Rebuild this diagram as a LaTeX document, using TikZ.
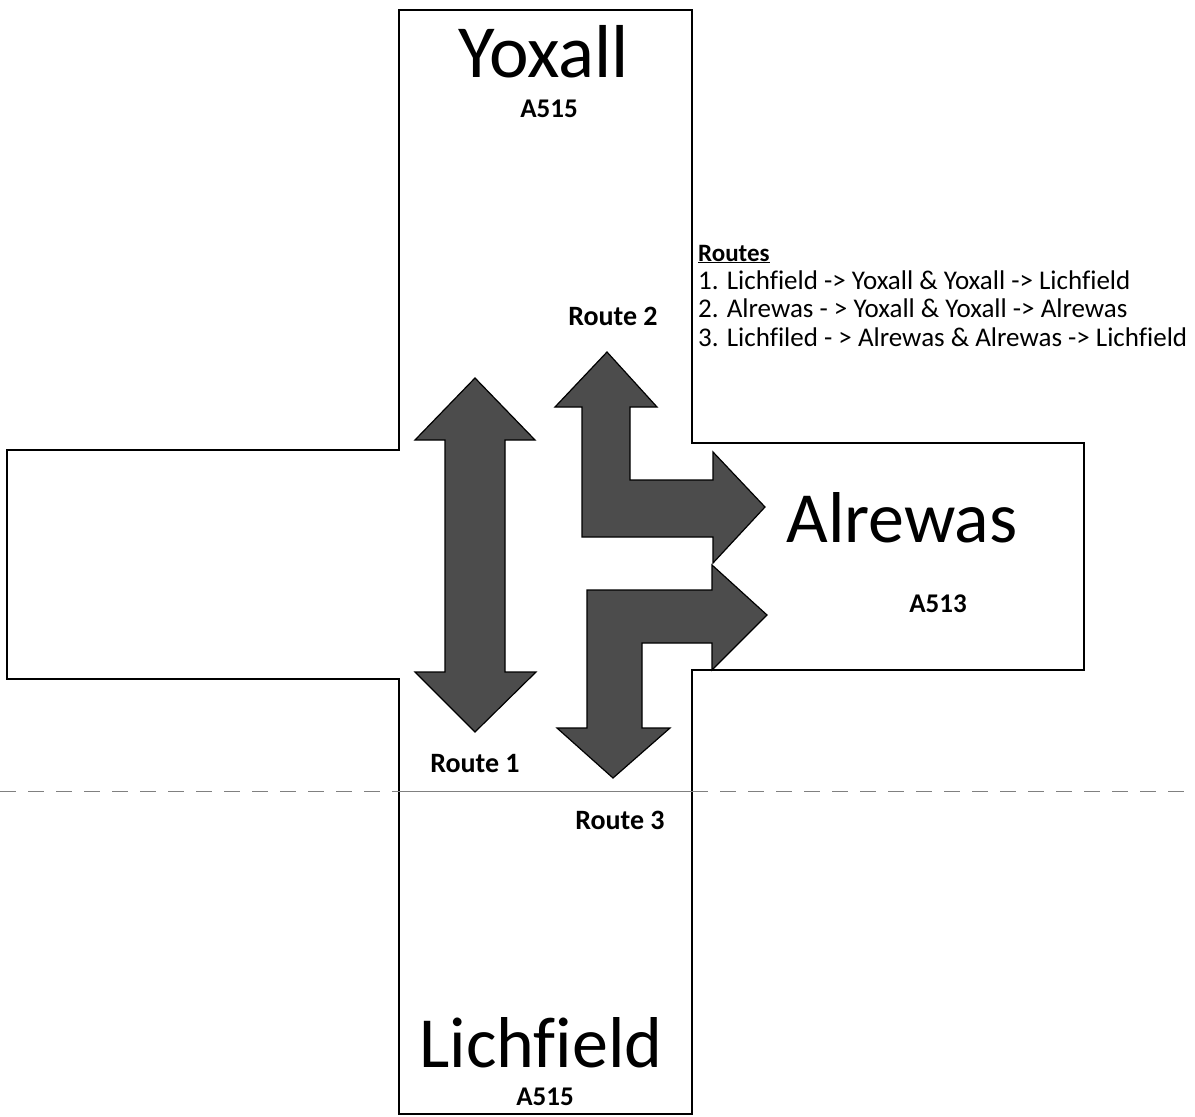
\documentclass[tikz,border=0pt]{standalone}
\usepackage{fontspec}
\setmainfont{Carlito}[Ligatures={NoCommon}]
\begin{document}
\begin{tikzpicture}[x=1pt,y=-1pt,
  road/.style={draw=black,line width=1.3pt},
  bigarrow/.style={draw=black,line width=1.2pt,fill=black!70,line join=miter},
  bigname/.style={anchor=base,inner sep=0pt,font=\fontsize{72}{86}\selectfont},
  roadno/.style={anchor=base,inner sep=0pt,font=\bfseries\fontsize{27}{32}\selectfont},
  routelbl/.style={anchor=base,inner sep=0pt,font=\bfseries\fontsize{28}{34}\selectfont},
  legend/.style={anchor=base west,inner sep=0pt,font=\fontsize{27}{30}\selectfont},
  divider/.style={gray,line width=1pt,dash pattern=on 16pt off 12pt}]
\useasboundingbox (0,0) rectangle (1195,1117);
% road outline
\draw[road] (399,10) -- (692,10) -- (692,443) -- (1084,443) -- (1084,670)
  -- (692,670) -- (692,1114) -- (399,1114) -- (399,679) -- (7,679)
  -- (7,450) -- (399,450) -- cycle;
% divider line
\coordinate (dl0) at (0,791);
\coordinate (dl1) at (399,791);
\coordinate (dl2) at (692,791);
\coordinate (dl3) at (1195,791);
\draw[divider] (dl0) -- (dl1);
\draw[gray,line width=1pt] (dl1) -- (dl2);
\draw[divider] (dl2) -- (dl3);
% route 1 arrow
\draw[bigarrow] (475,378) -- (535,440) -- (505,440) -- (505,672) -- (536,672)
  -- (475,732) -- (415,672) -- (445,672) -- (445,440) -- (415,440) -- cycle;
% route 2 arrow
\draw[bigarrow] (607,352) -- (657,407) -- (630,407) -- (630,480) -- (713,480)
  -- (713,452) -- (765,507) -- (713,563) -- (713,537) -- (582,537)
  -- (582,407) -- (555,407) -- cycle;
% route 3 arrow
\draw[bigarrow] (587,590) -- (712,590) -- (712,565) -- (767,615) -- (712,670)
  -- (712,643) -- (642,643) -- (642,728) -- (670,728) -- (613,778)
  -- (557,728) -- (587,728) -- cycle;
% place names
\node[bigname,font=\fontsize{75}{90}\selectfont] (yox) at (544,77) {Yoxall};
\node[roadno] (yoxno) at (549,117) {A515};
\node[bigname] (lich) at (541,1067) {Lichfield};
\node[roadno] (lichno) at (545,1105) {A515};
\node[bigname] (alr) at (902,542) {Alrewas};
\node[roadno] (alrno) at (938,612) {A513};
% route labels
\node[routelbl] (r2) at (613,325) {Route 2};
\node[routelbl] (r1) at (475,772) {Route 1};
\node[routelbl] (r3) at (620,829) {Route 3};
% legend
\node[legend,font=\bfseries\fontsize{25}{30}\selectfont] (lg0) at (698,261) {\underline{Routes}};
\node[legend] (lg1) at (698,289) {1. Lichfield -> Yoxall \& Yoxall -> Lichfield};
\node[legend] (lg2) at (698,317) {2. Alrewas - > Yoxall \& Yoxall -> Alrewas};
\node[legend] (lg3) at (698,346) {3. Lichfiled - > Alrewas \& Alrewas -> Lichfield};
\end{tikzpicture}
\end{document}
